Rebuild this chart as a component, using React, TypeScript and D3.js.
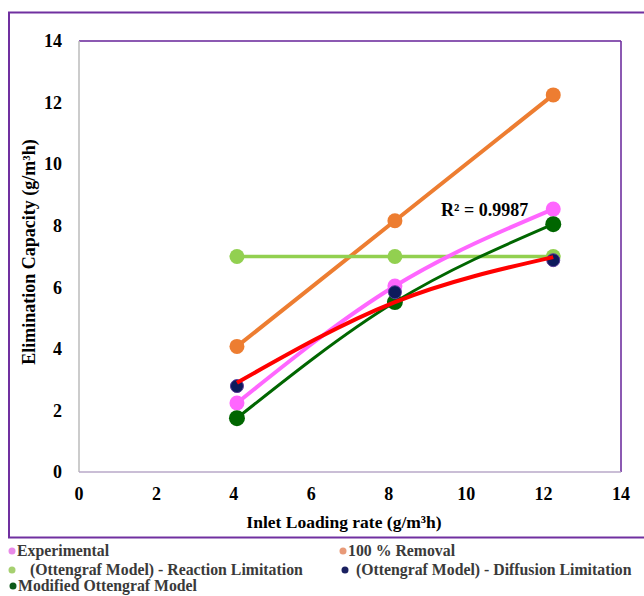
import React from "react";
import * as d3 from "d3";

const loading = [4.08, 8.16, 12.25];
const experimental = [2.24, 6.04, 8.54];
const removal100 = [4.08, 8.16, 12.25];
const reactionLimit = [7.0, 7.0, 7.0];
const diffusionLimit = [2.79, 5.84, 6.88];
const modifiedModel = [1.75, 5.52, 8.05];
const diffusionFit = [2.9, 5.52, 6.98];
const xTicks = [0, 2, 4, 6, 8, 10, 12, 14];
const yTicks = [0, 2, 4, 6, 8, 10, 12, 14];
const r2Label = "R² = 0.9987";

const W = 644, H = 596;
const PL = 79, PR = 621, PT = 41, PB = 472;
const PURPLE = "#7030A0";
const FONT = "Liberation Serif, Times New Roman, Tinos, DejaVu Serif, serif";

export default function App() {
  const x = d3.scaleLinear().domain([0, 14]).range([PL, PR]);
  const y = d3.scaleLinear().domain([0, 14]).range([PB, PT]);
  const pts = (vals: number[]) => loading.map((lx, i) => [x(lx), y(vals[i])] as [number, number]);
  const straight = d3.line().curve(d3.curveLinear);
  const smooth = d3.line().curve(d3.curveMonotoneX);

  const series = [
    { vals: removal100, color: "#ED7D31", line: straight, lw: 4, r: 7.5 },
    { vals: reactionLimit, color: "#92D050", line: straight, lw: 3.5, r: 7.5 },
    { vals: experimental, color: "#FF66FF", line: smooth, lw: 4, r: 7.5 },
    { vals: modifiedModel, color: "#006600", line: smooth, lw: 3, r: 8 },
  ];

  const legend = [
    { label: "Experimental", color: "#E88AE8", x: 12, y: 556, tx: 17 },
    { label: "100 % Removal", color: "#E89A78", x: 343, y: 556, tx: 348 },
    { label: " (Ottengraf Model) - Reaction Limitation", color: "#A6D070", x: 12, y: 575, tx: 26 },
    { label: " (Ottengraf Model) - Diffusion Limitation", color: "#1A2060", x: 345, y: 575, tx: 352 },
    { label: "Modified Ottengraf Model", color: "#0D5A1A", x: 13, y: 591, tx: 18 },
  ];

  const txt = { fontFamily: FONT, fontWeight: 700 } as React.CSSProperties;

  return (
    <svg width={W} height={H} style={{ position: "absolute", left: 0, top: 0, background: "#fff" }}>
      <rect x={0} y={0} width={W} height={H} fill="#fff" />
      <rect x={9} y={12.5} width={660} height={525} fill="none" stroke={PURPLE} strokeWidth={2} />
      <line x1={PL} y1={PT} x2={PR} y2={PT} stroke={PURPLE} strokeWidth={2} opacity={0.8} />
      <line x1={PR} y1={PT} x2={PR} y2={PB} stroke={PURPLE} strokeWidth={2} opacity={0.8} />
      <line x1={PL} y1={PT} x2={PL} y2={PB} stroke="#BBBBBB" strokeWidth={1.5} />
      <line x1={PL} y1={PB} x2={PR} y2={PB} stroke="#B8A8C8" strokeWidth={1.5} />

      {yTicks.map((t) => (
        <text key={"y" + t} x={62} y={y(t)} dy="0.35em" textAnchor="end" style={{ ...txt, fontSize: 18 }} fill="#000">
          {t}
        </text>
      ))}
      {xTicks.map((t) => (
        <text key={"x" + t} x={x(t)} y={500} textAnchor="middle" style={{ ...txt, fontSize: 18 }} fill="#000">
          {t}
        </text>
      ))}
      <text x={344} y={528} textAnchor="middle" style={{ ...txt, fontSize: 17.5 }} fill="#000">
        Inlet Loading rate (g/m³h)
      </text>
      <text transform={`translate(35,${252}) rotate(-90)`} textAnchor="middle" style={{ ...txt, fontSize: 18 }} fill="#000">
        Elimination Capacity (g/m³h)
      </text>

      {series.map((s, i) => (
        <g key={i}>
          <path d={s.line(pts(s.vals)) || ""} fill="none" stroke={s.color} strokeWidth={s.lw} />
          {pts(s.vals).map((p, j) => (
            <circle key={j} cx={p[0]} cy={p[1]} r={s.r} fill={s.color} />
          ))}
        </g>
      ))}
      {pts(diffusionLimit).map((p, j) => (
        <circle key={"n" + j} cx={p[0]} cy={p[1]} r={6.5} fill="#0D1A5C" stroke="#5A3A9A" strokeWidth={1} />
      ))}
      <path d={smooth(pts(diffusionFit)) || ""} fill="none" stroke="#FF0000" strokeWidth={4} />

      <text x={441} y={216} style={{ ...txt, fontSize: 18 }} fill="#000">
        {r2Label}
      </text>

      {legend.map((l, i) => (
        <g key={i}>
          <circle cx={l.x} cy={l.y - 5} r={3.5} fill={l.color} />
          <text x={l.tx} y={l.y} style={{ ...txt, fontSize: 15.8, whiteSpace: "pre" }} fill="#3a3a3a">
            {l.label}
          </text>
        </g>
      ))}
    </svg>
  );
}
